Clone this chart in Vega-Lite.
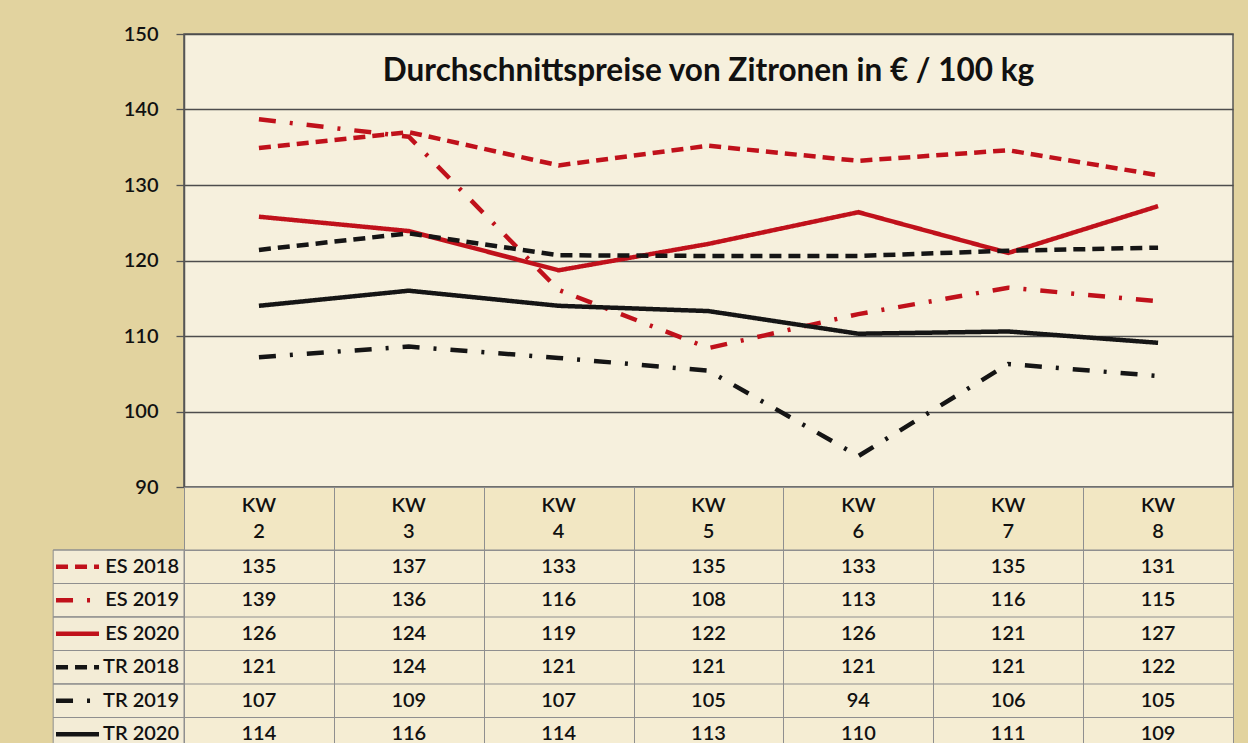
{
  "$schema": "https://vega.github.io/schema/vega-lite/v6.json",
  "background": "#e2d39f",
  "padding": {"left": 52, "top": 23, "right": 16, "bottom": 0},
  "spacing": 0,
  "bounds": "flush",
  "config": {"font": "Lato", "text": {"font": "Lato"}},
  "datasets": {
    "prices": [
      {"series": "ES 2018", "kw": 2, "value": 134.9},
      {"series": "ES 2018", "kw": 3, "value": 137.0},
      {"series": "ES 2018", "kw": 4, "value": 132.6},
      {"series": "ES 2018", "kw": 5, "value": 135.2},
      {"series": "ES 2018", "kw": 6, "value": 133.2},
      {"series": "ES 2018", "kw": 7, "value": 134.6},
      {"series": "ES 2018", "kw": 8, "value": 131.3},
      {"series": "ES 2019", "kw": 2, "value": 138.7},
      {"series": "ES 2019", "kw": 3, "value": 136.4},
      {"series": "ES 2019", "kw": 4, "value": 116.1},
      {"series": "ES 2019", "kw": 5, "value": 108.4},
      {"series": "ES 2019", "kw": 6, "value": 112.9},
      {"series": "ES 2019", "kw": 7, "value": 116.4},
      {"series": "ES 2019", "kw": 8, "value": 114.6},
      {"series": "ES 2020", "kw": 2, "value": 125.8},
      {"series": "ES 2020", "kw": 3, "value": 123.9},
      {"series": "ES 2020", "kw": 4, "value": 118.7},
      {"series": "ES 2020", "kw": 5, "value": 122.2},
      {"series": "ES 2020", "kw": 6, "value": 126.4},
      {"series": "ES 2020", "kw": 7, "value": 121.0},
      {"series": "ES 2020", "kw": 8, "value": 127.2},
      {"series": "TR 2018", "kw": 2, "value": 121.4},
      {"series": "TR 2018", "kw": 3, "value": 123.6},
      {"series": "TR 2018", "kw": 4, "value": 120.7},
      {"series": "TR 2018", "kw": 5, "value": 120.6},
      {"series": "TR 2018", "kw": 6, "value": 120.6},
      {"series": "TR 2018", "kw": 7, "value": 121.3},
      {"series": "TR 2018", "kw": 8, "value": 121.7},
      {"series": "TR 2019", "kw": 2, "value": 107.2},
      {"series": "TR 2019", "kw": 3, "value": 108.6},
      {"series": "TR 2019", "kw": 4, "value": 107.1},
      {"series": "TR 2019", "kw": 5, "value": 105.4},
      {"series": "TR 2019", "kw": 6, "value": 94.1},
      {"series": "TR 2019", "kw": 7, "value": 106.3},
      {"series": "TR 2019", "kw": 8, "value": 104.7},
      {"series": "TR 2020", "kw": 2, "value": 114.0},
      {"series": "TR 2020", "kw": 3, "value": 116.0},
      {"series": "TR 2020", "kw": 4, "value": 114.0},
      {"series": "TR 2020", "kw": 5, "value": 113.3},
      {"series": "TR 2020", "kw": 6, "value": 110.3},
      {"series": "TR 2020", "kw": 7, "value": 110.6},
      {"series": "TR 2020", "kw": 8, "value": 109.1}
    ],
    "weeks": [{"kw": 2}, {"kw": 3}, {"kw": 4}, {"kw": 5}, {"kw": 6}, {"kw": 7}, {"kw": 8}],
    "series": [
      {"series": "ES 2018"}, {"series": "ES 2019"}, {"series": "ES 2020"},
      {"series": "TR 2018"}, {"series": "TR 2019"}, {"series": "TR 2020"}
    ]
  },
  "resolve": {"scale": {"x": "independent", "y": "independent"}},
  "vconcat": [
    {
      "width": 1049,
      "height": 453,
      "view": {"fill": "#f6f0dd", "stroke": "#555555", "strokeWidth": 1.5},
      "title": {"text": "Durchschnittspreise von Zitronen in € / 100 kg", "font": "Lato", "fontSize": 31.5, "fontWeight": "bold", "color": "#111111", "anchor": "middle", "baseline": "top", "offset": -63, "frame": "group"},
      "data": {"name": "prices"},
      "mark": {"type": "line", "strokeWidth": 4.5, "strokeCap": "butt"},
      "encoding": {
        "x": {"field": "kw", "type": "quantitative", "scale": {"domain": [1.5, 8.5], "nice": false, "zero": false}, "axis": null},
        "y": {"field": "value", "type": "quantitative", "scale": {"domain": [90, 150], "nice": false, "zero": false},
          "axis": {"values": [90, 100, 110, 120, 130, 140, 150], "title": null, "grid": true, "gridColor": "#4d4d4d", "gridWidth": 1.3, "gridOpacity": 1,
            "domainColor": "#555555", "domainWidth": 1.5, "tickColor": "#555555", "tickSize": 8, "tickWidth": 1.3,
            "labelFont": "Lato", "labelFontSize": 20, "labelFontWeight": 600, "labelColor": "#111111", "labelPadding": 18}},
        "stroke": {"field": "series", "type": "nominal", "legend": null,
          "scale": {"domain": ["ES 2018", "ES 2019", "ES 2020", "TR 2018", "TR 2019", "TR 2020"], "range": ["#c0111b", "#c0111b", "#c0111b", "#151515", "#151515", "#151515"]}},
        "strokeDash": {"field": "series", "type": "nominal", "legend": null,
          "scale": {"domain": ["ES 2018", "ES 2019", "ES 2020", "TR 2018", "TR 2019", "TR 2020"], "range": [[12, 7], [17, 14, 3, 14], [1, 0], [12, 7], [17, 14, 3, 14], [1, 0]]}}
      }
    },
    {
      "width": 1049,
      "height": 63,
      "view": {"fill": "#f2e7c3", "stroke": "#8f8f8f", "strokeWidth": 1},
      "data": {"name": "weeks"},
      "layer": [
        {
          "mark": {"type": "text", "dy": -13, "font": "Lato", "fontSize": 20, "fontWeight": 600, "color": "#111111"},
          "encoding": {
            "x": {"field": "kw", "type": "quantitative", "scale": {"domain": [1.5, 8.5], "nice": false, "zero": false},
              "axis": {"values": [2.5, 3.5, 4.5, 5.5, 6.5, 7.5], "grid": true, "gridColor": "#8f8f8f", "gridWidth": 1, "gridOpacity": 1, "labels": false, "ticks": false, "domain": false, "title": null}},
            "text": {"value": "KW"}
          }
        },
        {
          "mark": {"type": "text", "dy": 13, "font": "Lato", "fontSize": 20, "fontWeight": 600, "color": "#111111"},
          "encoding": {
            "x": {"field": "kw", "type": "quantitative"},
            "text": {"field": "kw", "type": "quantitative"}
          }
        }
      ]
    },
    {
      "width": 1049,
      "height": 201,
      "view": {"fill": "#f5edd3", "stroke": "#8f8f8f", "strokeWidth": 1},
      "layer": [
        {
          "data": {"name": "series"},
          "mark": {"type": "rect", "fill": "#f3ecd6", "stroke": "#8f8f8f", "strokeWidth": 1},
          "encoding": {
            "x": {"datum": 0.627, "type": "quantitative"},
            "x2": {"datum": 1.5},
            "y": {"field": "series", "type": "nominal", "axis": null,
              "scale": {"domain": ["ES 2018", "ES 2019", "ES 2020", "TR 2018", "TR 2019", "TR 2020"], "paddingInner": 0, "paddingOuter": 0}}
          }
        },
        {
          "data": {"name": "series"},
          "mark": {"type": "rule", "color": "#8f8f8f", "strokeWidth": 1},
          "encoding": {
            "x": {"datum": 0.627, "type": "quantitative"},
            "x2": {"datum": 8.5},
            "y": {"field": "series", "type": "nominal", "bandPosition": 0}
          }
        },
        {
          "data": {"name": "series"},
          "mark": {"type": "rule", "strokeWidth": 4.5, "strokeCap": "butt"},
          "encoding": {
            "x": {"datum": 0.646, "type": "quantitative"},
            "x2": {"datum": 0.933},
            "y": {"field": "series", "type": "nominal"},
            "stroke": {"field": "series", "type": "nominal", "legend": null},
            "strokeDash": {"field": "series", "type": "nominal", "legend": null}
          }
        },
        {
          "data": {"name": "series"},
          "mark": {"type": "text", "align": "right", "font": "Lato", "fontSize": 20, "fontWeight": 600, "color": "#111111"},
          "encoding": {
            "x": {"datum": 1.467, "type": "quantitative"},
            "y": {"field": "series", "type": "nominal"},
            "text": {"field": "series", "type": "nominal"}
          }
        },
        {
          "data": {"name": "prices"},
          "mark": {"type": "text", "font": "Lato", "fontSize": 20, "fontWeight": 600, "color": "#111111"},
          "encoding": {
            "x": {"field": "kw", "type": "quantitative", "scale": {"domain": [1.5, 8.5], "nice": false, "zero": false},
              "axis": {"values": [2.5, 3.5, 4.5, 5.5, 6.5, 7.5], "grid": true, "gridColor": "#8f8f8f", "gridWidth": 1, "gridOpacity": 1, "labels": false, "ticks": false, "domain": false, "title": null}},
            "y": {"field": "series", "type": "nominal"},
            "text": {"field": "value", "type": "quantitative", "format": ".0f"}
          }
        }
      ]
    }
  ]
}
